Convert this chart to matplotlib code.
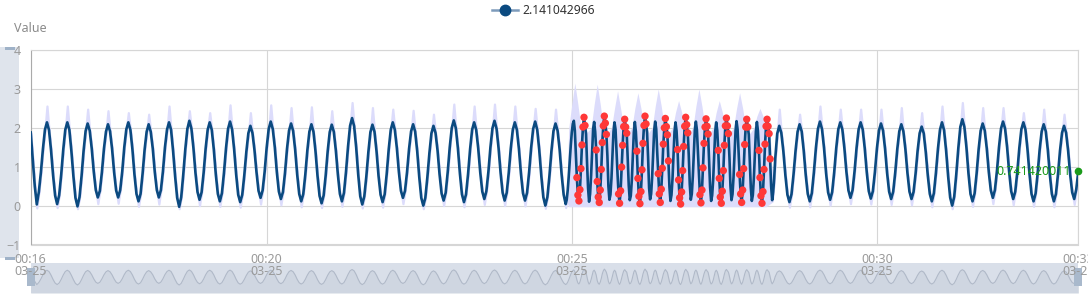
import numpy as np
import pandas as pd
import matplotlib
matplotlib.use('Agg')
import matplotlib.pyplot as plt
from matplotlib.lines import Line2D
from matplotlib.patches import Rectangle

plt.rcParams['font.family'] = ['Noto Sans', 'DejaVu Sans']

# ---------------- data ----------------
series_name = '2.141042966'
y_axis_name = 'Value'
start_time = pd.Timestamp('2024-03-25 00:16:08')
end_label_text = '0.741420011'

# segment 1: every 2 s from 00:16:08
seg1_values = """
1.88 1.2 0.5 0.03 0.35 0.85 1.45 1.95 2.14
1.94 1.42 0.78 0.26 0.04 0.27 0.80 1.44 1.95 2.14
1.95 1.40 0.75 0.2 -0.02 0.22 0.76 1.41 1.92 2.11
1.93 1.47 0.87 0.4 0.21 0.38 0.86 1.46 1.9 2.09
1.91 1.46 0.86 0.39 0.21 0.4 0.88 1.5 1.96 2.14
1.95 1.45 0.8 0.3 0.11 0.3 0.82 1.44 1.9 2.09
1.9 1.47 0.86 0.4 0.21 0.4 0.88 1.5 1.95 2.14
1.95 1.4 0.75 0.2 -0.03 0.22 0.8 1.45 1.97 2.18
1.98 1.48 0.84 0.35 0.15 0.34 0.84 1.47 1.95 2.14
1.95 1.45 0.8 0.3 0.11 0.32 0.84 1.47 1.97 2.16
1.96 1.45 0.8 0.28 0.09 0.28 0.78 1.38 1.86 2.05
1.87 1.43 0.86 0.38 0.2 0.39 0.87 1.49 1.97 2.16
1.97 1.5 0.86 0.36 0.17 0.35 0.84 1.46 1.93 2.11
1.92 1.44 0.8 0.3 0.11 0.3 0.8 1.42 1.9 2.09
1.9 1.4 0.76 0.25 0.06 0.26 0.77 1.4 1.89 2.08
1.9 1.42 0.8 0.3 0.11 0.33 0.87 1.52 2.05 2.25
2.04 1.5 0.8 0.24 0.03 0.24 0.75 1.38 1.89 2.08
1.9 1.4 0.76 0.28 0.09 0.29 0.81 1.45 1.95 2.14
1.95 1.48 0.86 0.38 0.2 0.38 0.86 1.46 1.91 2.09
1.9 1.4 0.74 0.2 0.0 0.2 0.73 1.35 1.86 2.05
1.87 1.42 0.8 0.31 0.13 0.33 0.86 1.5 2.0 2.19
1.99 1.48 0.82 0.29 0.09 0.29 0.81 1.45 1.95 2.14
1.95 1.47 0.85 0.36 0.17 0.37 0.87 1.5 1.99 2.18
1.98 1.48 0.84 0.33 0.13 0.33 0.84 1.47 1.95 2.14
1.95 1.46 0.82 0.32 0.13 0.33 0.85 1.48 1.97 2.16
1.95 1.43 0.77 0.22 0.0 0.22 0.76 1.41 1.92 2.11
1.93 1.45 0.8 0.28 0.04
"""
# segment 2: every 1 s from 00:24:55 (anomalous stretch)
seg2_values = """
0.15 0.4 0.75 1.15 1.55 1.88 2.1
2.18 1.93 1.32 0.72 0.27 0.12 0.41 0.95 1.56 2.02
2.27 2.06 1.84 1.1 0.45 0.1 0.3 0.78 1.4 1.98
2.15 1.9 1.43 0.62 0.22 0.08 0.4 0.93 1.62 2.05
2.3 2.12 1.83 1.28 0.5 0.15 0.28 0.7 1.3 1.9
2.14 1.96 1.35 0.8 0.3 0.06 0.38 0.99 1.55 2.03
2.22 2.02 1.86 1.2 0.52 0.14 0.25 0.64 1.27 1.88
2.15 1.9 1.4 0.7 0.24 0.05 0.36 0.92 1.6 2.06
2.3 2.1 1.88 1.25 0.45 0.16 0.3 0.73 1.35 1.93
2.16 1.97 1.36 0.82 0.3 0.08 0.42 0.96 1.58 2.0
2.24 2.03 1.82 1.15 0.48 0.12 0.27 0.68 1.3 1.9
2.14 1.92 1.44 0.66 0.2 0.04 0.35 0.9 1.52 2.04
2.27 2.08 1.87 1.3 0.55 0.15 0.3 0.75 1.34 1.95
2.16 1.95 1.38 0.76 0.28 0.07 0.4 0.97 1.6 2.02
2.23 2.04 1.84 1.18 0.46 0.12 0.26 0.66 1.28 1.9
2.14 1.93 1.42 0.7 0.22 0.06 0.37 0.9 1.55 2.05
2.25 2.05 1.85 1.24 0.5 0.14 0.29 0.72 1.32 1.92
2.17 1.96 1.37 0.8 0.3 0.08 0.4 0.95 1.57 2.02
2.22 2.02 1.83 1.16 0.47 0.12 0.27 0.7 1.3 1.9
2.15 1.92 1.42 0.72 0.25 0.06 0.36 0.93 1.58 2.04
2.22 2.04 1.85 1.2 0.5 0.14 0.35 0.7
"""
# segment 3: every 2 s from 00:28:20
seg3_values = """
1.2 1.85 2.05
1.87 1.4 0.78 0.28 0.09 0.29 0.8 1.41 1.9 2.09
1.91 1.42 0.79 0.3 0.11 0.32 0.85 1.48 1.97 2.16
1.97 1.48 0.84 0.34 0.15 0.35 0.86 1.48 1.96 2.14
1.96 1.48 0.87 0.39 0.2 0.39 0.88 1.49 1.96 2.14
1.96 1.48 0.86 0.37 0.18 0.37 0.86 1.47 1.93 2.11
1.93 1.46 0.84 0.36 0.17 0.36 0.85 1.45 1.91 2.09
1.91 1.45 0.84 0.36 0.17 0.35 0.82 1.41 1.86 2.03
1.86 1.38 0.78 0.3 0.11 0.32 0.84 1.46 1.95 2.14
1.94 1.42 0.76 0.21 0.0 0.23 0.8 1.47 2.02 2.22
2.02 1.5 0.83 0.3 0.11 0.31 0.82 1.45 1.93 2.11
1.93 1.47 0.86 0.39 0.2 0.4 0.89 1.5 1.98 2.16
1.98 1.5 0.87 0.37 0.17 0.36 0.86 1.48 1.96 2.14
1.96 1.46 0.82 0.3 0.11 0.31 0.82 1.44 1.91 2.09
1.91 1.44 0.8 0.3 0.11 0.3 0.8 1.41 1.87 2.05
1.87 1.41 0.8 0.34 0.17 0.42 0.88
"""
seg_starts = [0, 527, 732]   # seconds after start_time
seg_steps = [2, 1, 2]

# upper band spikes at the regular peaks (00:16:24 + 20 s * k)
band_peak_pre = [2.56, 2.56, 2.48, 2.44, 2.39, 2.35, 2.56, 2.44, 2.39, 2.59,
                 2.39, 2.59, 2.52, 2.54, 2.44, 2.65, 2.52, 2.48, 2.45, 2.35,
                 2.61, 2.56, 2.61, 2.56, 2.50, 2.48]
band_peak_post = [2.48, 2.35, 2.56, 2.48, 2.48, 2.48, 2.52, 2.39, 2.56, 2.65,
                  2.52, 2.52, 2.39, 2.48, 2.35]
# lower band at the regular troughs
band_low_pre = [-0.06, -0.05, -0.08, 0.05, 0.06, -0.02, 0.04, -0.08, 0.0, -0.02,
                -0.04, 0.04, 0.02, -0.03, -0.05, -0.02, -0.06, -0.04, 0.05, -0.08,
                0.0, -0.03, 0.03, 0.0, -0.01, -0.07, -0.05]
band_low_post = [-0.04, -0.03, 0.01, 0.05, 0.04, 0.03, 0.02, -0.03, -0.08, -0.02,
                 0.05, 0.02, -0.02, -0.03, 0.03]

# widened band during the anomalous stretch
anom_band_secs = [527, 529, 532, 535, 538, 541, 546,
                  551, 554, 557, 560, 563, 567,
                  571, 574, 577, 580, 583, 587,
                  591, 594, 597, 600, 603, 607,
                  611, 614, 617, 620, 623, 627,
                  631, 634, 637, 640, 643, 647,
                  651, 654, 657, 660, 663, 667,
                  671, 674, 677, 680, 683, 687,
                  691, 694, 697, 700, 703, 707,
                  711, 714, 717, 720, 723, 730]
anom_band_upper = [0.3, 2.0, 2.6, 3.15, 2.6, 2.0, 1.85,
                   2.0, 2.6, 3.12, 2.6, 2.0, 1.85,
                   2.0, 2.5, 2.95, 2.5, 2.0, 1.85,
                   2.0, 2.5, 2.9, 2.5, 2.0, 1.85,
                   2.0, 2.55, 3.0, 2.55, 2.0, 1.85,
                   2.0, 2.4, 2.7, 2.4, 2.0, 1.85,
                   2.0, 2.55, 3.0, 2.55, 2.0, 1.85,
                   2.0, 2.4, 2.7, 2.4, 2.0, 1.85,
                   2.0, 2.5, 2.9, 2.5, 2.0, 1.85,
                   2.0, 2.3, 2.5, 2.3, 2.0, 0.8]
anom_band_lower = [0.1, -0.03, -0.03, -0.03, -0.03, -0.03, -0.03,
                   -0.03, -0.03, -0.03, -0.03, -0.03, -0.03,
                   -0.03, -0.03, -0.03, -0.03, -0.03, -0.03,
                   -0.03, -0.03, -0.03, -0.03, -0.03, -0.03,
                   -0.03, -0.03, -0.03, -0.03, -0.03, -0.03,
                   -0.03, -0.03, -0.03, -0.03, -0.03, -0.03,
                   -0.03, -0.03, -0.03, -0.03, -0.03, -0.03,
                   -0.03, -0.03, -0.03, -0.03, -0.03, -0.03,
                   -0.03, -0.03, -0.03, -0.03, -0.03, -0.03,
                   -0.03, -0.03, -0.03, -0.03, -0.03, 0.1]

# anomaly windows (seconds after start) -> red points
anomaly_windows = [(537, 545), (556, 566), (578, 586), (596, 605), (617, 627),
                   (636, 646), (658, 666), (676, 686), (697, 705), (716, 727)]

# ---------------- build arrays ----------------
segs = [np.array(s.split(), dtype=float) for s in (seg1_values, seg2_values, seg3_values)]
secs = np.concatenate([st + sp * np.arange(len(v)) for st, v, sp in zip(seg_starts, segs, seg_steps)])
values = np.concatenate(segs)

upper = values.copy()
lower = values.copy()
pre_peak_secs = 16 + 20 * np.arange(len(band_peak_pre))
post_peak_secs = 736 + 20 * np.arange(len(band_peak_post))
for s, v in zip(np.concatenate([pre_peak_secs, post_peak_secs]), band_peak_pre + band_peak_post):
    idx = np.where(secs == s)[0]
    if len(idx):
        upper[idx[0]] = max(v, values[idx[0]])
pre_tr_secs = 6 + 20 * np.arange(len(band_low_pre))
post_tr_secs = 746 + 20 * np.arange(len(band_low_post))
for s, v in zip(np.concatenate([pre_tr_secs, post_tr_secs]), band_low_pre + band_low_post):
    idx = np.where(secs == s)[0]
    if len(idx):
        lower[idx[0]] = min(v, values[idx[0]])

mask = np.zeros(len(secs), dtype=bool)
for a, b in anomaly_windows:
    mask |= (secs >= a) & (secs <= b)

# ---------------- figure ----------------
W, H = 1088, 300
fig = plt.figure(figsize=(W / 100, H / 100), dpi=100)

def fx(px):
    return px / W

def fy(py):
    return 1 - py / H

L, R, T, B = 30.7, 1078.3, 50.0, 244.5

# vertical data-zoom on the left (behind everything)
fig.add_artist(Rectangle((fx(0), fy(258)), fx(19), fy(47) - fy(258), color='#dfe4ec', lw=0, zorder=-10))
for yy in (48.5, 258.5):
    fig.add_artist(Rectangle((fx(5), fy(yy + 1.5)), fx(10), fy(yy - 1.5) - fy(yy + 1.5),
                             color='#9fb2c8', lw=0, zorder=-9))

# horizontal data-zoom slider with preview
axs = fig.add_axes([fx(L), fy(293), fx(R) - fx(L), fy(263) - fy(293)])
axs.set_zorder(1)
axs.set_facecolor('#d9dfe9')
axs.fill_between(secs, values, -1.2, color='#cfd6e1', lw=0)
axs.plot(secs, values, color='#b0b9c8', lw=0.8)
axs.set_xlim(secs[0], secs[-1])
axs.set_ylim(-1.2, 3.2)
axs.set_xticks([])
axs.set_yticks([])
for sp in axs.spines.values():
    sp.set_visible(False)

ax = fig.add_axes([fx(L), fy(B), fx(R) - fx(L), fy(T) - fy(B)])
ax.set_zorder(3)
ax.patch.set_alpha(0)

band_c = '#dcdcfb'
line_c = '#0b4a80'
grid_c = '#d6d6d6'
txt_c = '#9a9a9a'

ax.fill_between(secs, lower, upper, color=band_c, edgecolor=band_c, lw=1.6, zorder=1)
ax.fill_between(anom_band_secs, anom_band_lower, anom_band_upper, color=band_c, lw=0, zorder=1)
ax.plot(secs, values, color=line_c, lw=1.9, zorder=3, solid_joinstyle='round')
ax.scatter(secs[mask], values[mask], s=28, color='#ff3838', zorder=4, edgecolors='none')

# end mark
ax.plot(secs[-1], values[-1], 'o', color='#1a9a1a', ms=4.5, zorder=5, clip_on=False)
ax.annotate(end_label_text, (secs[-1], values[-1]), xytext=(-5, 0), textcoords='offset points',
            ha='right', va='center', color='#1a9a1a', fontsize=9, zorder=5)

ax.set_xlim(secs[0], secs[-1])
ax.set_ylim(-1, 4)
ax.set_yticks(range(-1, 5))
tick_secs = [0, 232, 532, 832, secs[-1]]
ax.set_xticks(tick_secs)
ax.set_xticklabels([(start_time + pd.Timedelta(seconds=float(s))).strftime('%H:%M\n%m-%d') for s in tick_secs])
ax.grid(True, color=grid_c, lw=0.8, zorder=0)
ax.set_axisbelow(True)
ax.tick_params(length=0, labelsize=9, colors=txt_c)
ax.tick_params(axis='x', pad=6)
ax.tick_params(axis='y', pad=7)
for lbl in ax.get_xticklabels():
    lbl.set_linespacing(0.95)
for sp in ['top', 'right', 'bottom']:
    ax.spines[sp].set_color(grid_c)
    ax.spines[sp].set_linewidth(0.8)
ax.spines['left'].set_color('#aaaaaa')
ax.spines['left'].set_linewidth(0.8)

fig.text(fx(14), fy(29), y_axis_name, ha='left', va='center', color='#8c8c8c', fontsize=9)

# legend
fig.add_artist(Line2D([fx(492), fx(518)], [fy(10), fy(10)], color='#7d9bbb', lw=1.8))
fig.add_artist(Line2D([fx(505)], [fy(10)], marker='o', color=line_c, ms=7.5, lw=0))
fig.text(fx(522), fy(10), series_name, ha='left', va='center', color='#333333', fontsize=8.7)

for xx in (L, R):
    fig.add_artist(Rectangle((fx(xx - 4), fy(286)), fx(8), fy(268) - fy(286), color='#a9b9cc', lw=0, zorder=2))

fig.savefig('out.png', dpi=100)
